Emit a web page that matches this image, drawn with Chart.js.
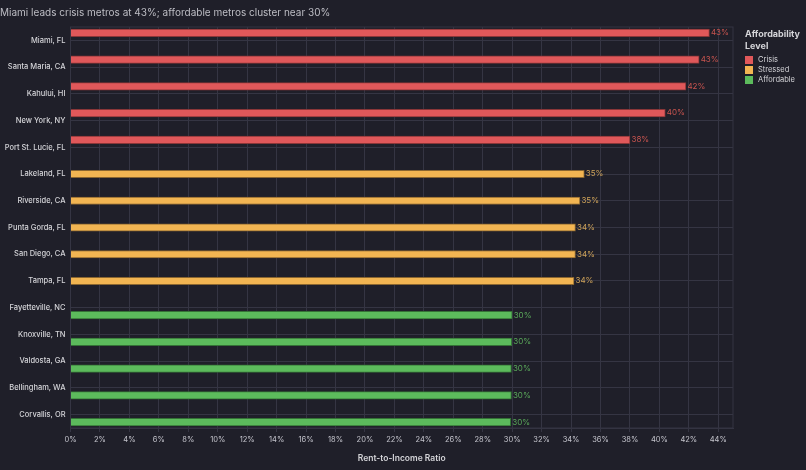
<!DOCTYPE html>
<html>
<head>
<meta charset="utf-8">
<title>Rent-to-Income Ratio</title>
<script src="https://cdn.jsdelivr.net/npm/chart.js@4.4.0/dist/chart.umd.min.js"></script>
<style>
  html, body { margin: 0; padding: 0; background: #1f1f29; }
  .wrap { position: relative; width: 806px; height: 470px; }
  #legend { position: absolute; left: 745px; top: 28px; font-family: Inter, sans-serif; color: #d4d4d8; }
  #legend .ttl { font-size: 9px; font-weight: 700; line-height: 12px; margin-bottom: 3px; }
  #legend .item { font-size: 7.5px; height: 10px; line-height: 10px; display: flex; align-items: center; }
  #legend .sw { width: 8px; height: 8px; margin-right: 5px; }
</style>
</head>
<body>
<div class="wrap">
  <canvas id="chart" width="806" height="470"></canvas>
  <div id="legend">
    <div class="ttl">Affordability<br>Level</div>
    <div class="item"><span class="sw" style="background:#e0585a"></span>Crisis</div>
    <div class="item"><span class="sw" style="background:#f2b552"></span>Stressed</div>
    <div class="item"><span class="sw" style="background:#5cbb5c"></span>Affordable</div>
  </div>
</div>
<script>
const metros = ['Miami, FL', 'Santa Maria, CA', 'Kahului, HI', 'New York, NY', 'Port St. Lucie, FL',
  'Lakeland, FL', 'Riverside, CA', 'Punta Gorda, FL', 'San Diego, CA', 'Tampa, FL',
  'Fayetteville, NC', 'Knoxville, TN', 'Valdosta, GA', 'Bellingham, WA', 'Corvallis, OR'];

// rent-to-income ratio, % (null where metro is in another level)
const crisis = [43.4, 42.7, 41.8, 40.4, 38.0, null, null, null, null, null, null, null, null, null, null];
const stressed = [null, null, null, null, null, 34.9, 34.6, 34.3, 34.3, 34.2, null, null, null, null, null];
const affordable = [null, null, null, null, null, null, null, null, null, null, 30.0, 29.97, 29.95, 29.95, 29.9];

const levels = ['Crisis', 'Stressed', 'Affordable'];
const barColors = ['#e0585a', '#f2b552', '#5cbb5c'];
const edgeColors = ['#8a3638', '#8a6630', '#347236'];
const labelColors = ['#c9544f', '#cfa359', '#5aa85a'];

const font = 'Inter, sans-serif';
const gridColor = '#353543';

// value labels + frame round the plot
const extras = {
  id: 'extras',
  afterDatasetsDraw(chart) {
    const { ctx, chartArea } = chart;
    ctx.save();
    ctx.strokeStyle = gridColor;
    ctx.lineWidth = 1;
    ctx.strokeRect(chartArea.left, chartArea.top, chartArea.right - chartArea.left, chartArea.bottom - chartArea.top);
    ctx.font = '8px ' + font;
    ctx.textBaseline = 'middle';
    ctx.textAlign = 'left';
    chart.data.datasets.forEach((ds, i) => {
      const meta = chart.getDatasetMeta(i);
      ctx.fillStyle = labelColors[i];
      meta.data.forEach((bar, j) => {
        const v = ds.data[j];
        if (v == null) return;
        ctx.fillText(Math.round(v) + '%', bar.x + 1.5, bar.y);
      });
    });
    ctx.restore();
  }
};

new Chart(document.getElementById('chart'), {
  type: 'bar',
  data: {
    labels: metros,
    datasets: [crisis, stressed, affordable].map((d, i) => ({
      label: levels[i],
      data: d,
      backgroundColor: barColors[i],
      borderColor: edgeColors[i],
      borderWidth: 1,
      barThickness: 7.5
    }))
  },
  options: {
    indexAxis: 'y',
    responsive: false,
    animation: false,
    layout: { padding: { left: 0, right: 73, top: 0, bottom: 0 } },
    plugins: {
      legend: { display: false },
      tooltip: { enabled: false },
      title: {
        display: true,
        text: 'Miami leads crisis metros at 43%; affordable metros cluster near 30%',
        align: 'start',
        color: '#bdbdc4',
        font: { family: font, size: 10, weight: 'normal' },
        padding: { top: 7, bottom: 8 }
      }
    },
    scales: {
      x: {
        min: 0,
        max: 45,
        grid: { color: gridColor, tickLength: 4, tickColor: gridColor },
        border: { color: gridColor },
        ticks: {
          stepSize: 2,
          includeBounds: false,
          color: '#c4c4cc',
          font: { family: font, size: 7.5 },
          padding: 3,
          maxRotation: 0,
          autoSkip: false,
          callback: v => v + '%'
        },
        title: {
          display: true,
          text: 'Rent-to-Income Ratio',
          color: '#d4d4d8',
          font: { family: font, size: 8.5, weight: '600' },
          padding: { top: 4, bottom: 6 }
        },
        afterFit: s => { s.height = 42; }
      },
      y: {
        grid: { color: gridColor, offset: false, drawTicks: false },
        border: { color: gridColor },
        ticks: {
          color: '#d4d4d8',
          font: { family: font, size: 7.5, weight: '500' },
          padding: 5
        },
        afterFit: s => { s.width = 70.5; }
      }
    }
  },
  plugins: [extras]
});
</script>
</body>
</html>
